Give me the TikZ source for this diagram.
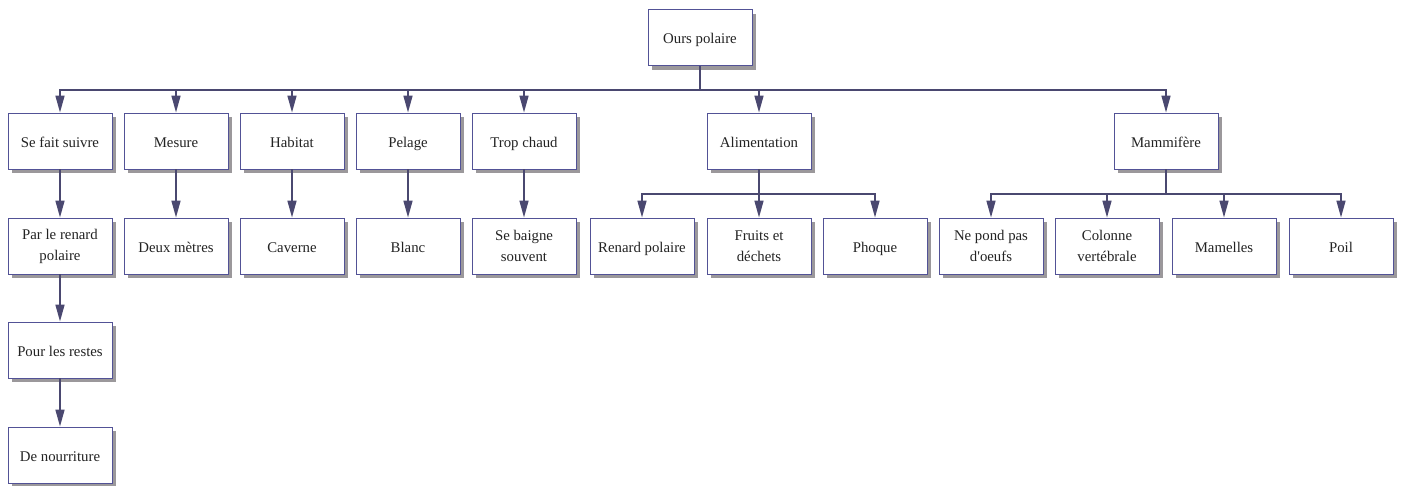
\documentclass[tikz,border=0pt]{standalone}
\usepackage{fontspec}
\setmainfont{Liberation Serif}
\usetikzlibrary{arrows.meta,shadows,calc}
\definecolor{linecol}{RGB}{74,72,112}
\definecolor{bordercol}{RGB}{82,82,150}
\definecolor{shadowcol}{RGB}{155,152,155}
\definecolor{textcol}{RGB}{35,35,35}
\tikzset{
  boxbase/.style={draw=bordercol, line width=0.9pt, fill=white, minimum width=104pt, minimum height=56pt,
    inner sep=2pt, align=center, text=textcol, font=\fontsize{14.8}{21}\selectfont,
    drop shadow={shadow xshift=4pt, shadow yshift=-4pt, fill=shadowcol, opacity=1}},
  box/.style={boxbase, text height=12.5pt, text depth=0pt},
  twoline/.style={boxbase},
  conn/.style={draw=linecol, line width=1.6pt},
  arr/.style={conn, -{Triangle[length=17pt,width=9pt]}}
}
\begin{document}
\begin{tikzpicture}[x=1pt,y=-1pt]
\useasboundingbox (0,0) rectangle (1403,485);
% root
\node[box] (root) at (700,37.5) {Ours polaire};
% level 1
\node[box] (suivre) at (60,141) {Se fait suivre};
\node[box] (mesure) at (176,141) {Mesure};
\node[box] (habitat) at (292,141) {Habitat};
\node[box] (pelage) at (408,141) {Pelage};
\node[box] (chaud) at (524,141) {Trop chaud};
\node[box] (alim) at (759,141) {Alimentation};
\node[box] (mamm) at (1166,141) {Mammifère};
% level 2
\node[twoline] (renard) at (60,246) {Par le renard\\polaire};
\node[box] (deux) at (176,246) {Deux mètres};
\node[box] (caverne) at (292,246) {Caverne};
\node[box] (blanc) at (408,246) {Blanc};
\node[twoline] (baigne) at (524,246) {Se baigne\\souvent};
\node[box] (rpol) at (642,246) {Renard polaire};
\node[twoline] (fruits) at (759,246) {Fruits et\\déchets};
\node[box] (phoque) at (875,246) {Phoque};
\node[twoline] (pond) at (991,246) {Ne pond pas\\d\textquotesingle oeufs};
\node[twoline] (colonne) at (1107,246) {Colonne\\vertébrale};
\node[box] (mamelles) at (1224,246) {Mamelles};
\node[box] (poil) at (1341,246) {Poil};
% level 3, 4
\node[box] (restes) at (60,350) {Pour les restes};
\node[box] (nourr) at (60,455) {De nourriture};
% buses
\coordinate (b0) at (700,90);
\coordinate (b1) at (759,194);
\coordinate (b2) at (1166,194);
\draw[conn] (root.south) -- (b0);
\foreach \c in {suivre,mesure,habitat,pelage,chaud,alim,mamm}
  \draw[arr] (b0) -| (\c.north);
\draw[conn] (alim.south) -- (b1);
\foreach \c in {rpol,fruits,phoque}
  \draw[arr] (b1) -| (\c.north);
\draw[conn] (mamm.south) -- (b2);
\foreach \c in {pond,colonne,mamelles,poil}
  \draw[arr] (b2) -| (\c.north);
% direct chains
\draw[arr] (suivre.south) -- (renard.north);
\draw[arr] (renard.south) -- (restes.north);
\draw[arr] (restes.south) -- (nourr.north);
\draw[arr] (mesure.south) -- (deux.north);
\draw[arr] (habitat.south) -- (caverne.north);
\draw[arr] (pelage.south) -- (blanc.north);
\draw[arr] (chaud.south) -- (baigne.north);
\end{tikzpicture}
\end{document}
